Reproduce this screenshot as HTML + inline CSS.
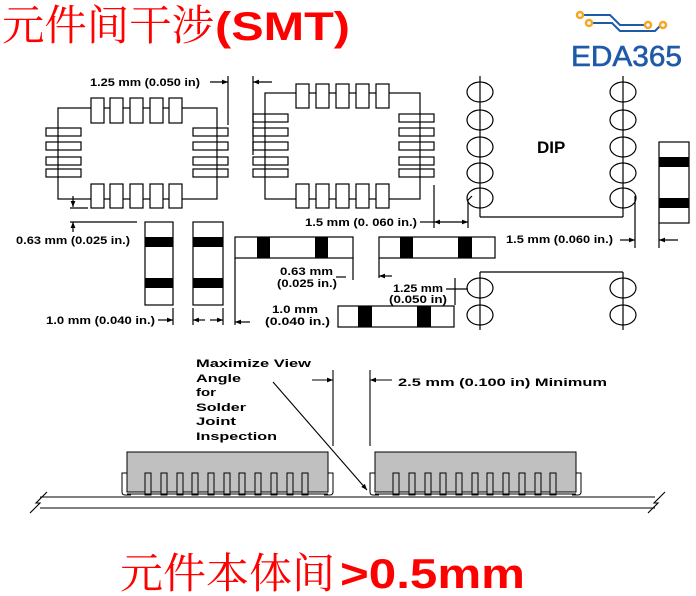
<!DOCTYPE html>
<html><head><meta charset="utf-8"><style>
html,body{margin:0;padding:0;background:#fff;}
svg{display:block;}
.t{font-family:"Liberation Sans",Arial,sans-serif;font-weight:bold;font-size:11px;fill:#000;}
</style></head><body>
<svg width="696" height="596" viewBox="0 0 696 596" xmlns="http://www.w3.org/2000/svg">
<defs>
<marker id="a" viewBox="0 0 10 10" refX="10" refY="5" markerWidth="8" markerHeight="6" orient="auto-start-reverse" markerUnits="userSpaceOnUse"><path d="M0,1 L10,5 L0,9 z" fill="#000"/></marker>
</defs>
<!-- Title -->
<text x="2" y="40" font-family="'Noto Serif CJK SC','Liberation Serif',serif" font-size="42" fill="#f00" textLength="212" lengthAdjust="spacingAndGlyphs">元件间干涉</text>
<text x="215" y="40" font-family="'Liberation Sans',sans-serif" font-weight="bold" font-size="40" fill="#f00" textLength="135" lengthAdjust="spacingAndGlyphs">(SMT)</text>
<!-- Logo -->
<g fill="none" stroke="#1f5aa8" stroke-width="2">
<path d="M583,15 L610,15 L620,25 L646,25"/><path d="M591,23 L612,23 L620,31 L655,31 L660,26"/>
</g>
<g fill="#fff" stroke="#f5a623" stroke-width="2.5"><circle cx="580" cy="15" r="3"/><circle cx="589" cy="23" r="3"/><circle cx="648" cy="25" r="3"/><circle cx="663" cy="25" r="3"/></g>
<text x="571" y="66" font-family="'Liberation Sans',sans-serif" font-size="29" fill="#1f5aa8" stroke="#1f5aa8" stroke-width="0.6" textLength="111" lengthAdjust="spacingAndGlyphs">EDA365</text>

<g fill="none" stroke="#000" stroke-width="1.2">
<!-- QFP1 -->
<rect x="58" y="108" width="159" height="91"/>
<rect x="91" y="98" width="13" height="25" fill="#fff"/><rect x="110" y="98" width="13" height="25" fill="#fff"/><rect x="130" y="98" width="13" height="25" fill="#fff"/><rect x="150" y="98" width="13" height="25" fill="#fff"/><rect x="169" y="98" width="13" height="25" fill="#fff"/>
<rect x="91" y="184" width="13" height="24" fill="#fff"/><rect x="110" y="184" width="13" height="24" fill="#fff"/><rect x="130" y="184" width="13" height="24" fill="#fff"/><rect x="150" y="184" width="13" height="24" fill="#fff"/><rect x="169" y="184" width="13" height="24" fill="#fff"/>
<rect x="46" y="128" width="35" height="8"/><rect x="46" y="142" width="35" height="8"/><rect x="46" y="157" width="35" height="8"/><rect x="46" y="169" width="35" height="8"/>
<rect x="193" y="128" width="35" height="8"/><rect x="193" y="142" width="35" height="8"/><rect x="193" y="157" width="35" height="8"/><rect x="193" y="169" width="35" height="8"/>
<line x1="228" y1="76" x2="228" y2="125"/>
<line x1="210" y1="82" x2="228" y2="82" marker-end="url(#a)"/>
<line x1="253" y1="76" x2="253" y2="155"/>
<line x1="272" y1="82" x2="253" y2="82" marker-end="url(#a)"/>
<!-- QFP2 -->
<rect x="265" y="93" width="155" height="106"/>
<rect x="296" y="84" width="13" height="24" fill="#fff"/><rect x="316" y="84" width="13" height="24" fill="#fff"/><rect x="336" y="84" width="13" height="24" fill="#fff"/><rect x="356" y="84" width="13" height="24" fill="#fff"/><rect x="376" y="84" width="13" height="24" fill="#fff"/>
<rect x="296" y="184" width="13" height="24" fill="#fff"/><rect x="316" y="184" width="13" height="24" fill="#fff"/><rect x="336" y="184" width="13" height="24" fill="#fff"/><rect x="356" y="184" width="13" height="24" fill="#fff"/><rect x="376" y="184" width="13" height="24" fill="#fff"/>
<rect x="253" y="114" width="35" height="8"/><rect x="253" y="128" width="35" height="8"/><rect x="253" y="142" width="35" height="8"/><rect x="253" y="157" width="35" height="8"/><rect x="253" y="169" width="35" height="8"/>
<rect x="399" y="114" width="35" height="8"/><rect x="399" y="128" width="35" height="8"/><rect x="399" y="142" width="35" height="8"/><rect x="399" y="157" width="35" height="8"/><rect x="399" y="169" width="35" height="8"/>
<!-- 0.63 dim -->
<line x1="73" y1="196" x2="73" y2="207" marker-end="url(#a)"/>
<line x1="70" y1="208" x2="88" y2="208"/>
<line x1="70" y1="222" x2="137" y2="222"/>
<line x1="73" y1="232" x2="73" y2="222" marker-end="url(#a)"/>
<!-- vertical resistors -->
<rect x="145" y="222" width="28" height="83"/><rect x="193" y="222" width="30" height="83"/>
<line x1="173" y1="308" x2="173" y2="325"/><line x1="193" y1="308" x2="193" y2="325"/><line x1="223" y1="308" x2="223" y2="325"/>
<line x1="158" y1="320" x2="173" y2="320" marker-end="url(#a)"/>
<line x1="205" y1="320" x2="193" y2="320" marker-end="url(#a)"/><line x1="210" y1="320" x2="223" y2="320" marker-end="url(#a)"/>
<!-- horizontal resistors -->
<rect x="235" y="237" width="118" height="21"/>
<rect x="379" y="237" width="116" height="21"/>
<rect x="338" y="306" width="116" height="21"/>
<line x1="235" y1="258" x2="235" y2="325"/>
<line x1="250" y1="322" x2="235" y2="322" marker-end="url(#a)"/>
<line x1="353" y1="258" x2="353" y2="280"/>
<line x1="336" y1="277" x2="346" y2="277"/>
<line x1="379" y1="258" x2="379" y2="278"/>
<line x1="392" y1="276" x2="379" y2="276" marker-end="url(#a)"/>
<line x1="455" y1="278" x2="455" y2="305"/>
<line x1="446" y1="289" x2="468" y2="289"/>
<!-- 1.5 dim -->
<line x1="434" y1="185" x2="434" y2="228"/>
<path d="M468,228 L468,200 L472,196"/>
<line x1="420" y1="222" x2="434" y2="222"/>
<line x1="451" y1="222" x2="434" y2="222" marker-end="url(#a)"/><line x1="451" y1="222" x2="468" y2="222" marker-end="url(#a)"/>
<!-- DIP -->
<line x1="480" y1="76" x2="480" y2="217"/><line x1="480" y1="217" x2="623" y2="217"/><line x1="623" y1="76" x2="623" y2="217"/>
<ellipse cx="480" cy="92" rx="13" ry="10"/><ellipse cx="480" cy="120" rx="13" ry="10"/><ellipse cx="480" cy="147" rx="13" ry="10"/><ellipse cx="480" cy="173" rx="13" ry="10"/><ellipse cx="480" cy="198" rx="13" ry="10"/>
<ellipse cx="623" cy="92" rx="13" ry="10"/><ellipse cx="623" cy="120" rx="13" ry="10"/><ellipse cx="623" cy="147" rx="13" ry="10"/><ellipse cx="623" cy="173" rx="13" ry="10"/><ellipse cx="623" cy="198" rx="13" ry="10"/>
<line x1="635" y1="196" x2="635" y2="248"/>
<line x1="620" y1="240" x2="635" y2="240" marker-end="url(#a)"/>
<rect x="659" y="142" width="30" height="81"/>
<line x1="659" y1="223" x2="659" y2="248"/>
<line x1="678" y1="240" x2="659" y2="240" marker-end="url(#a)"/>
<line x1="480" y1="272" x2="623" y2="272"/>
<line x1="480" y1="272" x2="480" y2="330"/><line x1="623" y1="272" x2="623" y2="330"/>
<ellipse cx="480" cy="288" rx="13" ry="10"/><ellipse cx="480" cy="315" rx="13" ry="10"/>
<ellipse cx="623" cy="288" rx="13" ry="10"/><ellipse cx="623" cy="315" rx="13" ry="10"/>
</g>
<!-- black bands -->
<g fill="#000">
<rect x="145" y="237" width="28" height="10"/><rect x="145" y="278" width="28" height="10"/>
<rect x="193" y="237" width="30" height="10"/><rect x="193" y="278" width="30" height="10"/>
<rect x="257" y="237" width="13" height="21"/><rect x="315" y="237" width="13" height="21"/>
<rect x="400" y="237" width="13" height="21"/><rect x="458" y="237" width="14" height="21"/>
<rect x="358" y="306" width="14" height="21"/><rect x="417" y="306" width="14" height="21"/>
<rect x="659" y="157" width="30" height="10"/><rect x="659" y="198" width="30" height="10"/>
</g>
<g class="t">
<text x="90" y="86" textLength="110" lengthAdjust="spacingAndGlyphs">1.25 mm (0.050 in)</text>
<text x="16" y="244" textLength="114" lengthAdjust="spacingAndGlyphs">0.63 mm (0.025 in.)</text>
<text x="46" y="324" textLength="109" lengthAdjust="spacingAndGlyphs">1.0 mm (0.040 in.)</text>
<text x="280" y="275" textLength="53" lengthAdjust="spacingAndGlyphs">0.63 mm</text>
<text x="277" y="287" textLength="60" lengthAdjust="spacingAndGlyphs">(0.025 in.)</text>
<text x="272" y="313" textLength="46" lengthAdjust="spacingAndGlyphs">1.0 mm</text>
<text x="265" y="325" textLength="65" lengthAdjust="spacingAndGlyphs">(0.040 in.)</text>
<text x="305" y="226" textLength="112" lengthAdjust="spacingAndGlyphs">1.5 mm (0. 060 in.)</text>
<text x="393" y="292" textLength="50" lengthAdjust="spacingAndGlyphs">1.25 mm</text>
<text x="389" y="303" textLength="58" lengthAdjust="spacingAndGlyphs">(0.050 in)</text>
<text x="506" y="243" textLength="107" lengthAdjust="spacingAndGlyphs">1.5 mm (0.060 in.)</text>
</g>
<text x="537" y="153" font-family="'Liberation Sans',sans-serif" font-weight="bold" font-size="17">DIP</text>

<!-- bottom side view -->
<g class="t" font-size="12">
<text x="196" y="367" textLength="115" lengthAdjust="spacingAndGlyphs">Maximize View</text>
<text x="196" y="382" textLength="45" lengthAdjust="spacingAndGlyphs">Angle</text>
<text x="196" y="396" textLength="20" lengthAdjust="spacingAndGlyphs">for</text>
<text x="196" y="411" textLength="50" lengthAdjust="spacingAndGlyphs">Solder</text>
<text x="196" y="425" textLength="40" lengthAdjust="spacingAndGlyphs">Joint</text>
<text x="196" y="440" textLength="81" lengthAdjust="spacingAndGlyphs">Inspection</text>
<text x="398" y="386" textLength="209" lengthAdjust="spacingAndGlyphs">2.5 mm (0.100 in) Minimum</text>
</g>
<g stroke="#000" stroke-width="1.1" fill="none">
<line x1="333" y1="370" x2="333" y2="446"/><line x1="370" y1="370" x2="370" y2="446"/>
<line x1="312" y1="380" x2="333" y2="380" marker-end="url(#a)"/>
<line x1="392" y1="380" x2="370" y2="380" marker-end="url(#a)"/>
<line x1="273" y1="382" x2="367" y2="490" marker-end="url(#a)"/>
<line x1="40" y1="497" x2="655" y2="497"/><line x1="40" y1="508" x2="655" y2="508"/>
<path d="M30,513 L40,503 L36,503 L47,492"/>
<path d="M648,513 L658,503 L654,503 L665,492"/>
</g>
<g id="comp" stroke="#000" stroke-width="1" fill="none">
<path d="M127,473 L122,473 L122,492 Q122,495 125,495 L131,495"/>
<path d="M328,473 L333,473 L333,492 Q333,495 330,495 L324,495"/>
<rect x="127" y="452" width="201" height="40" fill="#c0c0c0"/>
<g fill="#c0c0c0">
<rect x="145" y="473" width="6" height="22"/><rect x="161" y="473" width="6" height="22"/><rect x="177" y="473" width="6" height="22"/><rect x="192" y="473" width="6" height="22"/><rect x="208" y="473" width="6" height="22"/><rect x="224" y="473" width="6" height="22"/><rect x="239" y="473" width="6" height="22"/><rect x="255" y="473" width="6" height="22"/><rect x="271" y="473" width="6" height="22"/><rect x="287" y="473" width="6" height="22"/><rect x="302" y="473" width="6" height="22"/>
</g>
<line x1="127" y1="494" x2="328" y2="494"/>
</g>
<use href="#comp" x="248"/>

<!-- bottom title -->
<text x="120" y="588" font-family="'Noto Serif CJK SC','Liberation Serif',serif" font-size="42" fill="#f00" textLength="215" lengthAdjust="spacingAndGlyphs">元件本体间</text>
<text x="340" y="588" font-family="'Liberation Sans',sans-serif" font-weight="bold" font-size="42" fill="#f00" textLength="185" lengthAdjust="spacingAndGlyphs">&gt;0.5mm</text>
</svg>
</body></html>
